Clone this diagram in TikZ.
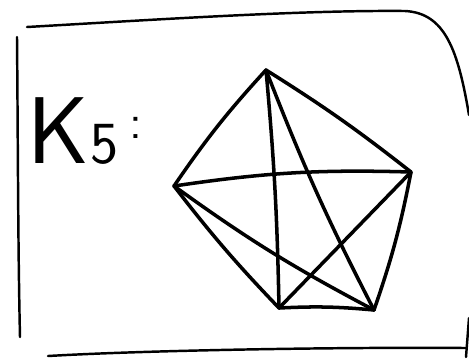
\documentclass[tikz,border=0pt]{standalone}
\usepackage{tikz}
\usetikzlibrary{positioning}

\begin{document}
\begin{tikzpicture}[
  x=0.02cm, y=-0.02cm,
  pen/.style={draw=black, line width=1.4pt, line cap=round, line join=round},
  edge/.style={pen, line width=2pt},
  vert/.style={coordinate}
]
\useasboundingbox (0,0) rectangle (469,360);

% frame
\draw[pen] (17,37) .. controls (18,150) and (18,250) .. (20,337);
\draw[pen] (27,27) .. controls (150,20) and (300,10) .. (405,11)
  .. controls (445,13) and (458,50) .. (469,115);
\draw[pen] (469,318) -- (466,357);
\draw[pen] (48,356) .. controls (150,350) and (350,347) .. (466,348);

% label
\node[font=\fontsize{54}{60}\selectfont\sffamily, anchor=base west, inner sep=0pt] (lbl) at (27,163)
  {K\kern1pt{\fontsize{34}{38}\selectfont 5\kern6pt\raisebox{14pt}{\fontsize{28}{30}\selectfont:}}};

% vertices
\node[vert] (top) at (266,70) {};
\node[vert] (rgt) at (411,172) {};
\node[vert] (brt) at (374,310) {};
\node[vert] (blf) at (279,308) {};
\node[vert] (lft) at (174,186) {};

% outer cycle
\draw[edge] (top) to[bend right=4] (lft);
\draw[edge] (lft) to[bend right=3] (blf);
\draw[edge] (blf) to[bend left=4] (brt);
\draw[edge] (brt) to[bend right=4] (rgt);
\draw[edge] (rgt) to[bend right=3] (top);

% inner star
\draw[edge] (top) to[bend left=2] (blf);
\draw[edge] (top) to[bend right=3] (brt);
\draw[edge] (lft) to[bend left=5] (rgt);
\draw[edge] (lft) to[bend right=4] (brt);
\draw[edge] (rgt) -- (blf);
\end{tikzpicture}
\end{document}
